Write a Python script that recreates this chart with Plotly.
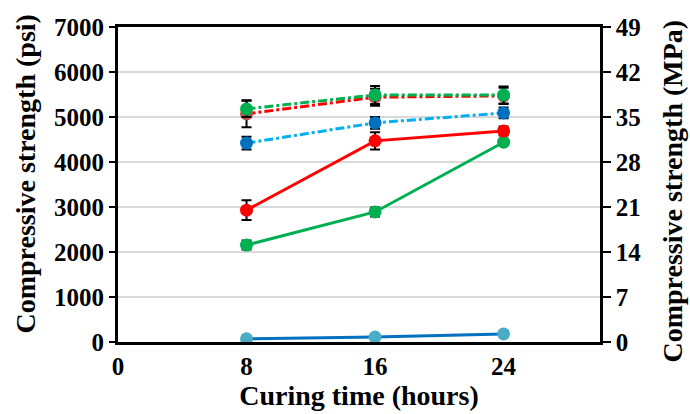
import plotly.graph_objects as go

# Curing times (hours)
hours = [8, 16, 24]

# Compressive strength (psi) per mix
red_dashdot = [5070, 5440, 5470]
green_dashdot = [5180, 5490, 5490]
blue_dashdot = [4420, 4870, 5090]
red_solid = [2930, 4470, 4690]
green_solid = [2155, 2890, 4440]
blue_solid = [70, 110, 180]

# Standard deviation (psi)
red_dashdot_err = [300, 190, 180]
green_dashdot_err = [180, 200, 190]
blue_dashdot_err = [140, 130, 120]
red_solid_err = [220, 190, 100]
green_solid_err = [100, 100, 60]
blue_solid_err = [20, 30, 20]

left_ticks = [0, 1000, 2000, 3000, 4000, 5000, 6000, 7000]
right_ticks = [0, 7, 14, 21, 28, 35, 42, 49]
x_ticks = [0, 8, 16, 24]

FONT = "Liberation Serif"

fig = go.Figure()


def add_series(y, err, line_color, marker_color, dash):
    fig.add_trace(go.Scatter(
        x=hours, y=y, mode="lines+markers",
        line=dict(color=line_color, width=3, dash=dash),
        marker=dict(color=marker_color, size=13),
        error_y=dict(type="data", array=err, visible=True,
                     color="black", thickness=2, width=5),
        showlegend=False,
    ))


add_series(blue_solid, blue_solid_err, "#0070C0", "#4BACC6", "solid")
add_series(green_solid, green_solid_err, "#00B050", "#00B050", "solid")
add_series(red_solid, red_solid_err, "#FF0000", "#FF0000", "solid")
add_series(blue_dashdot, blue_dashdot_err, "#00B0F0", "#0070C0", "dashdot")
add_series(red_dashdot, red_dashdot_err, "#FF0000", "#C0504D", "dashdot")
add_series(green_dashdot, green_dashdot_err, "#00B050", "#00B050", "dashdot")

# Secondary MPa axis carrier
fig.add_trace(go.Scatter(x=[None], y=[None], yaxis="y2", showlegend=False,
                         hoverinfo="skip"))

tick_font = dict(family=FONT, size=25, color="black", weight="bold")
title_font = dict(family=FONT, size=28, color="black", weight="bold")

fig.update_layout(
    width=690, height=414,
    margin=dict(l=118, r=90, t=27, b=72),
    paper_bgcolor="white", plot_bgcolor="white",
    font=dict(family=FONT, color="black"),
    xaxis=dict(
        range=[0, 30], tickvals=x_ticks, ticktext=[str(v) for v in x_ticks],
        showline=True, linecolor="black", linewidth=3, mirror=True,
        showgrid=False, zeroline=False, ticks="",
        tickfont=tick_font,
        title=dict(text="Curing time (hours)", standoff=0, font=title_font),
    ),
    yaxis=dict(
        range=[0, 7000], tickvals=left_ticks,
        showline=True, linecolor="black", linewidth=3,
        showgrid=True, gridcolor="#D9D9D9", gridwidth=1.5, zeroline=False,
        ticks="outside", ticklen=6, tickwidth=2, tickcolor="black",
        tickfont=tick_font,
    ),
    yaxis2=dict(
        range=[0, 49], tickvals=right_ticks, overlaying="y", side="right",
        showline=True, linecolor="black", linewidth=2.5,
        showgrid=False, zeroline=False,
        ticks="outside", ticklen=8, tickwidth=2, tickcolor="black",
        tickfont=tick_font,
    ),
    annotations=[
        dict(text="Compressive strength (psi)", textangle=-90,
             xref="paper", yref="paper", x=0, y=0.5,
             xanchor="center", yanchor="middle", xshift=-93, yshift=10,
             showarrow=False, font=title_font),
        dict(text="Compressive strength (MPa)", textangle=-90,
             xref="paper", yref="paper", x=1, y=0.5,
             xanchor="center", yanchor="middle", xshift=72, yshift=-7,
             showarrow=False, font=title_font),
    ],
)

fig.write_html("out.html")
